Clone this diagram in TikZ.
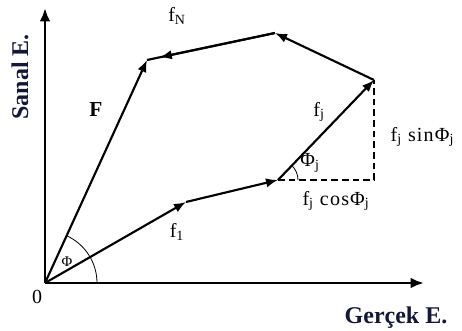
\documentclass[tikz,border=0pt]{standalone}
\usepackage{fontspec}
\setmainfont{Liberation Serif}
\usepackage{xcolor}
\definecolor{axisnavy}{HTML}{15173A}
\usetikzlibrary{arrows.meta, calc}

\begin{document}
\begin{tikzpicture}[
        x=0.75pt, y=-0.75pt,
        vec/.style={-{Latex[length=9pt, width=7pt]}, line width=1.6pt},
        axis/.style={-{Latex[length=10pt, width=8pt]}, line width=2pt},
        helper/.style={dash pattern=on 5pt off 3pt, line width=1.6pt},
        anglearc/.style={line width=0.6pt},
        lbl/.style={font=\fontsize{15}{17}\selectfont\addfontfeature{LetterSpace=6}, inner sep=1pt},
        axlbl/.style={font=\fontsize{18}{20}\selectfont\bfseries, text=axisnavy, inner sep=1pt}
    ]

    \useasboundingbox (0,0) rectangle (462,331);

    % --- 1. AXES ---
    \coordinate (o) at (45,283);
    \coordinate (ytip) at (45,8);
    \coordinate (xtip) at (424,283);
    \draw[axis] (o) -- (ytip);
    \draw[axis] (o) -- (xtip);

    % --- 2. VECTOR CHAIN ---
    \coordinate (a) at (186,202);
    \coordinate (b) at (278,180);
    \coordinate (c) at (374,80);
    \coordinate (d) at (275,33);
    \coordinate (e) at (147,60);
    \coordinate (cb) at (374,180);      % <-- foot of the projection

    \draw[vec] (o) -- (a);
    \draw[vec] (a) -- (b);
    \draw[vec] (b) -- (c);
    \draw[vec] (c) -- (d);
    \draw[line width=1.6pt] (d) -- (e);
    \draw[vec] (d) -- ($(d)!0.9!(e)$);
    \draw[vec] (o) -- (e);

    % --- 3. PROJECTIONS AND ANGLES ---
    \draw[helper] (b) -- (cb) -- (c);
    \draw[anglearc] ($(o)+(52,0)$) arc[start angle=0, end angle=-65, radius=52];
    \draw[anglearc] ($(b)+(20,0)$) arc[start angle=0, end angle=-46, radius=20];

    % --- 4. LABELS ---
    \node[lbl] (fn) at (177,16) {f\textsubscript{N}};
    \node[lbl, font=\fontsize{16}{18}\selectfont\bfseries] (fbig) at (96,110) {F};
    \node[lbl] (fj) at (319,112) {f\textsubscript{j}};
    \node[lbl, anchor=west] (fjsin) at (389,137) {f\textsubscript{j} sinΦ\textsubscript{j}};
    \node[lbl] (phij) at (310,163) {Φ\textsubscript{j}};
    \node[lbl] (fjcos) at (336,201) {f\textsubscript{j} cosΦ\textsubscript{j}};
    \node[lbl] (f1) at (177,232) {f\textsubscript{1}};
    \node[lbl, font=\fontsize{11}{13}\selectfont] (phi) at (67,262) {Φ};
    \node[lbl] (orig) at (37,297) {0};
    \node[axlbl, rotate=90] (ylbl) at (20,77) {Sanal E.};
    \node[axlbl] (xlbl) at (396,318) {Gerçek E.};

\end{tikzpicture}
\end{document}
